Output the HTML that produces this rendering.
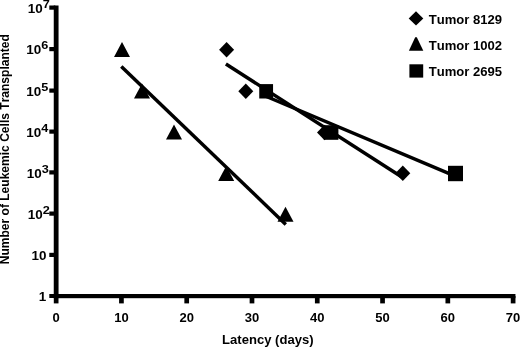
<!DOCTYPE html>
<html><head><meta charset="utf-8">
<style>
html,body{margin:0;padding:0;background:#fff;}
body{width:520px;height:347px;overflow:hidden;}
svg{display:block;filter:blur(0.4px);}
text{font-kerning:none;font-family:"Liberation Sans",Arial,Helvetica,sans-serif;font-weight:bold;fill:#000;}
</style></head><body>
<svg width="520" height="347" viewBox="0 0 520 347">
<rect width="520" height="347" fill="#fff"/>
<g fill="#000">
<rect x="53.75" y="5.5" width="4.8" height="292.6"/>
<rect x="53.75" y="294.0" width="461.70000000000005" height="4.2"/>
<rect x="49.3" y="252.80" width="6" height="4.2"/>
<rect x="49.3" y="211.50" width="6" height="4.2"/>
<rect x="49.3" y="170.30" width="6" height="4.2"/>
<rect x="49.3" y="129.50" width="6" height="4.2"/>
<rect x="49.3" y="88.50" width="6" height="4.2"/>
<rect x="49.3" y="47.00" width="6" height="4.2"/>
<rect x="49.3" y="5.50" width="6" height="4.2"/>
<rect x="49.3" y="294.0" width="6" height="4.0"/>
<rect x="53.80" y="296" width="4.7" height="7.4"/>
<rect x="119.08" y="296" width="4.7" height="7.4"/>
<rect x="184.36" y="296" width="4.7" height="7.4"/>
<rect x="249.64" y="296" width="4.7" height="7.4"/>
<rect x="314.92" y="296" width="4.7" height="7.4"/>
<rect x="380.20" y="296" width="4.7" height="7.4"/>
<rect x="445.48" y="296" width="4.7" height="7.4"/>
<rect x="510.76" y="296" width="4.7" height="7.4"/>
</g>
<text transform="translate(46.2,301.3) scale(1.095,1)" font-size="12.3" text-anchor="end">1</text>
<text transform="translate(46.5,260.1) scale(1.095,1)" font-size="12.3" text-anchor="end">10</text>
<text transform="translate(49.9,218.79999999999998) scale(1.095,1)" font-size="12.3" text-anchor="end">10<tspan font-size="11.6" dy="-4.9">2</tspan></text>
<text transform="translate(48.699999999999996,177.6) scale(1.095,1)" font-size="12.3" text-anchor="end">10<tspan font-size="11.6" dy="-4.9">3</tspan></text>
<text transform="translate(48.4,136.79999999999998) scale(1.095,1)" font-size="12.3" text-anchor="end">10<tspan font-size="11.6" dy="-4.9">4</tspan></text>
<text transform="translate(48.4,95.8) scale(1.095,1)" font-size="12.3" text-anchor="end">10<tspan font-size="11.6" dy="-4.9">5</tspan></text>
<text transform="translate(48.4,54.300000000000004) scale(1.095,1)" font-size="12.3" text-anchor="end">10<tspan font-size="11.6" dy="-4.9">6</tspan></text>
<text transform="translate(49.9,13.3) scale(1.095,1)" font-size="12.3" text-anchor="end">10<tspan font-size="11.6" dy="-4.9">7</tspan></text>
<text transform="translate(56.1,321.8) scale(1.06,1)" font-size="12.3" text-anchor="middle">0</text>
<text transform="translate(121.4,321.8) scale(1.06,1)" font-size="12.3" text-anchor="middle">10</text>
<text transform="translate(186.7,321.8) scale(1.06,1)" font-size="12.3" text-anchor="middle">20</text>
<text transform="translate(252.0,321.8) scale(1.06,1)" font-size="12.3" text-anchor="middle">30</text>
<text transform="translate(317.3,321.8) scale(1.06,1)" font-size="12.3" text-anchor="middle">40</text>
<text transform="translate(382.5,321.8) scale(1.06,1)" font-size="12.3" text-anchor="middle">50</text>
<text transform="translate(447.8,321.8) scale(1.06,1)" font-size="12.3" text-anchor="middle">60</text>
<text transform="translate(513.1,321.8) scale(1.06,1)" font-size="12.3" text-anchor="middle">70</text>
<text transform="translate(267.8,343.6) scale(1.063,1)" font-size="12.3" text-anchor="middle">Latency (days)</text>
<text transform="translate(8.5,149.2) rotate(-90) scale(1,1.095)" font-size="12.05" text-anchor="middle">Number of Leukemic Cells Transplanted</text>
<g stroke="#000" stroke-width="3.5" fill="none">
<path d="M121.3 66.4L285.8 224.4"/>
<path d="M225.9 64.0L402.2 177.3"/>
<path d="M265.2 96.0L454.6 175.8"/>
</g>
<g fill="#000">
<path d="M122 42.0L130.0 57.0H114.0Z"/>
<path d="M142 83.5L150.0 98.5H134.0Z"/>
<path d="M174 124.5L182.0 139.5H166.0Z"/>
<path d="M226.2 166.0L234.2 181.0H218.2Z"/>
<path d="M285.5 206.8L293.5 221.8H277.5Z"/>
<path d="M226.6 42.099999999999994L234.1 49.8L226.6 57.5L219.1 49.8Z"/>
<path d="M245.8 83.5L253.3 91.2L245.8 98.9L238.3 91.2Z"/>
<path d="M324.5 124.8L332.0 132.5L324.5 140.2L317.0 132.5Z"/>
<path d="M402.8 165.5L410.3 173.2L402.8 180.89999999999998L395.3 173.2Z"/>
<rect x="259.25" y="84.1" width="13.8" height="14.4"/>
<rect x="323.8" y="125.2" width="14.6" height="14.6"/>
<rect x="448.0" y="165.8" width="15" height="15.4"/>
<path d="M416 11.2L423.3 18.4L416 25.6L408.7 18.4Z"/>
<path d="M415.2 37.2H416.8L423.3 50.7H408.9Z"/>
<rect x="409.4" y="64.3" width="13.8" height="13.3"/>
</g>
<text transform="translate(428.7,23.8) scale(1.065,1)" font-size="12.3" text-anchor="start">Tumor 8129</text>
<text transform="translate(428.7,50.2) scale(1.065,1)" font-size="12.3" text-anchor="start">Tumor 1002</text>
<text transform="translate(428.7,76.3) scale(1.065,1)" font-size="12.3" text-anchor="start">Tumor 2695</text>
</svg>
</body></html>
